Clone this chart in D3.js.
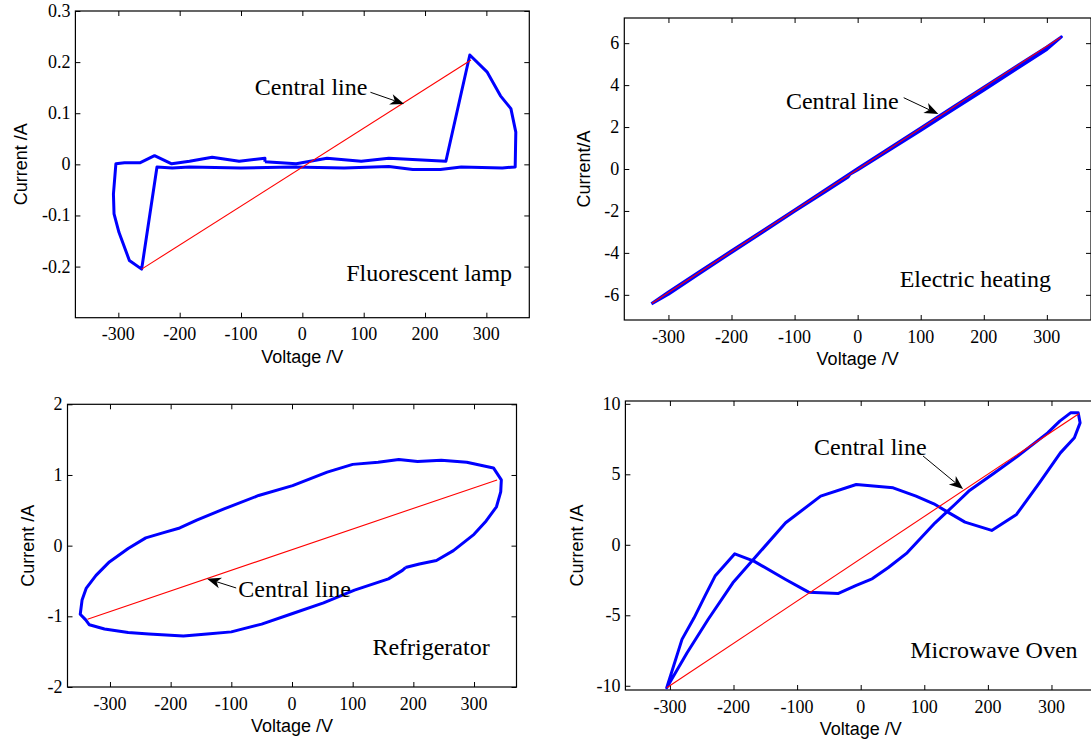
<!DOCTYPE html>
<html>
<head>
<meta charset="utf-8">
<script src="https://cdn.jsdelivr.net/npm/d3@7"></script>
<style>
  body { margin: 0; background: #fff; }
  svg { display: block; }
</style>
</head>
<body>
<script>
// V-I trajectories (voltage in V, current in A)
const xTicks = [-300, -200, -100, 0, 100, 200, 300]

// fluorescent lamp
const lampV = [-61, -10, 40, 96, 141, 234, 273, 301, 323, 340, 348, 347, 326, 259, 225, 180, 141, 68, -16, -100, -184, -212, -237,
    -262, -282, -299, -307, -308, -304, -290, -265, -241, -213, -184, -147, -103, -61]
const lampI = [0.005, 0.001, 0.012, 0.006, 0.012, 0.006, 0.214, 0.181, 0.134, 0.109, 0.063, -0.005, -0.007, -0.005, -0.010, -0.010,
    -0.004, -0.007, -0.005, -0.007, -0.005, -0.007, -0.005, -0.205, -0.188, -0.133, -0.097, -0.058, 0.001, 0.003, 0.003, 0.017,
    0.001, 0.006, 0.014, 0.006, 0.012]
const lampCentralV = [-262, 275]
const lampCentralI = [-0.205, 0.204]
const lampTicks = [-0.2, -0.1, 0, 0.1, 0.2, 0.3]

// electric heating
const heatV = [-327, -300, -250, -200, -150, -100, -50, -15, -12, 0, 50, 100, 150, 200, 250, 300, 323,
    300, 250, 200, 150, 100, 50, 0, -50, -100, -150, -200, -250, -300, -327]
const heatI = [-6.43, -5.97, -4.97, -3.98, -3.00, -2.02, -1.06, -0.38, -0.25, -0.05, 0.90, 1.84, 2.80, 3.76, 4.73, 5.70, 6.30,
    5.82, 4.86, 3.90, 2.93, 1.96, 0.99, 0.02, -0.97, -1.95, -2.93, -3.90, -4.88, -5.86, -6.43]
const heatCentralV = [-326, 322]
const heatCentralI = [-6.40, 6.28]
const heatTicks = [-6, -4, -2, 0, 2, 4, 6]

// refrigerator
const fridgeV = [187, 210, 238, 266, 300, 320, 337, 344, 345, 332, 288, 246, 207, 176, 142, 100, 58, 1, -55, -112, -157, -185,
    -213, -241, -270, -301, -323, -339, -346, -349, -340, -334, -309, -270, -236, -179, -140, -100, -50, 1, 52, 103, 159, 182]
const fridgeI = [-0.31, -0.26, -0.21, -0.07, 0.16, 0.35, 0.55, 0.76, 0.93, 1.10, 1.18, 1.21, 1.19, 1.22, 1.18, 1.15, 1.04, 0.85,
    0.71, 0.52, 0.36, 0.25, 0.18, 0.11, -0.04, -0.23, -0.42, -0.60, -0.77, -0.97, -1.05, -1.12, -1.18, -1.23, -1.25, -1.28,
    -1.25, -1.22, -1.11, -0.96, -0.81, -0.63, -0.47, -0.35]
const fridgeCentralV = [-337, 338]
const fridgeCentralI = [-1.04, 0.93]
const fridgeTicks = [-2, -1, 0, 1, 2]

// microwave oven
const ovenV = [16, -7, -35, -82, -118, -168, -198, -229, -245, -262, -281, -305, -273, -240, -201, -162, -118, -63, -7, 51, 87,
    115, 137, 164, 206, 245, 281, 314, 336, 345, 342, 330, 313, 294, 247, 209, 170, 148, 117, 73, 43, 18]
const ovenI = [-2.46, -2.88, -3.45, -3.36, -2.46, -1.16, -0.64, -2.22, -3.64, -5.18, -6.71, -10.14, -7.66, -5.30, -2.70, -0.69,
    1.56, 3.45, 4.28, 4.04, 3.45, 2.91, 2.32, 1.61, 1.02, 2.15, 4.40, 6.52, 7.59, 8.65, 9.36, 9.36, 8.77, 7.94, 6.29, 5.06, 3.81,
    2.86, 1.56, -0.57, -1.63, -2.41]
const ovenCentralV = [-305, 343]
const ovenCentralI = [-10.14, 9.30]
const ovenTicks = [-10, -5, 0, 5, 10]

const panels = [
    {
        v: lampV, i: lampI, cv: lampCentralV, ci: lampCentralI, yDomain: [-0.3, 0.3], yTicks: lampTicks,
        box: [75.4, 11, 529.3, 317.7], ylabel: "Current /A", ylabelX: 26.5,
        name: "Fluorescent lamp", nameAt: [342, -0.228],
        note: [-77.5, 0.1357], arrow: [[111, 0.141], [166, 0.118]]
    },
    {
        v: heatV, i: heatI, cv: heatCentralV, ci: heatCentralI, yDomain: [-7.2, 7.2], yTicks: heatTicks,
        box: [624.3, 18, 1091, 320], ylabel: "Current/A", ylabelX: 589.5,
        name: "Electric heating", nameAt: [306.5, -5.63],
        note: [-113.7, 2.86], arrow: [[73, 3.40], [128, 2.62]]
    },
    {
        v: fridgeV, i: fridgeI, cv: fridgeCentralV, ci: fridgeCentralI, yDomain: [-2, 2], yTicks: fridgeTicks,
        box: [67.5, 404.3, 516.5, 687], ylabel: "Current /A", ylabelX: 34,
        name: "Refrigerator", nameAt: [325.8, -1.547],
        note: [-88.5, -0.727], arrow: [[-92, -0.599], [-140, -0.468]]
    },
    {
        v: ovenV, i: ovenI, cv: ovenCentralV, ci: ovenCentralI, yDomain: [-10.3, 10.2], yTicks: ovenTicks,
        box: [625.4, 401, 1096, 690], ylabel: "Current /A", ylabelX: 582.5,
        name: "Microwave Oven", nameAt: [341, -8.03],
        note: [-73.4, 6.37], arrow: [[98, 6.30], [161, 3.95]]
    }
]

const serif = "'Liberation Serif', 'Times New Roman', serif"
const sans = "'Liberation Sans', Arial, sans-serif"
const tickLen = 5

const svg = d3.select("body").append("svg").attr("width", 1091).attr("height", 744)

function draw_arrow(g, x0, y0, x1, y1) {
    const len = Math.hypot(x1 - x0, y1 - y0)
    const ux = (x1 - x0) / len, uy = (y1 - y0) / len
    const hl = 14, hw = 5.5, back = 4
    const bx = x1 - ux * hl, by = y1 - uy * hl
    g.append("line")
        .attr("x1", x0).attr("y1", y0)
        .attr("x2", bx + ux * back).attr("y2", by + uy * back)
        .attr("stroke", "#000").attr("stroke-width", 1)
    g.append("path")
        .attr("d", `M${x1},${y1}L${bx - uy * hw},${by + ux * hw}L${bx + ux * back},${by + uy * back}L${bx + uy * hw},${by - ux * hw}Z`)
        .attr("fill", "#000")
}

function draw_panel(p) {
    const [x0, y0, x1, y1] = p.box
    const x = d3.scaleLinear().domain([-370, 370]).range([x0, x1])
    const y = d3.scaleLinear().domain(p.yDomain).range([y1, y0])
    const g = svg.append("g")

    // inward ticks on all four sides
    const axes = [
        [d3.axisBottom(x).tickValues(xTicks).tickSize(tickLen), `translate(0,${y0})`],
        [d3.axisTop(x).tickValues(xTicks).tickSize(tickLen), `translate(0,${y1})`],
        [d3.axisRight(y).tickValues(p.yTicks).tickSize(tickLen), `translate(${x0},0)`],
        [d3.axisLeft(y).tickValues(p.yTicks).tickSize(tickLen), `translate(${x1},0)`]
    ]
    axes.forEach(([ax, tr]) => {
        const a = g.append("g").attr("transform", tr).call(ax.tickFormat(""))
        a.select(".domain").remove()
        a.selectAll(".tick line").attr("stroke", "#000").attr("stroke-width", 1)
    })

    g.append("g").selectAll("text").data(xTicks).join("text")
        .attr("x", d => x(d)).attr("y", y1 + 22.5)
        .attr("text-anchor", "middle")
        .style("font-family", serif).style("font-size", "18px")
        .text(d => String(d))

    g.append("g").selectAll("text").data(p.yTicks).join("text")
        .attr("x", x0 - 5).attr("y", d => y(d) + 6)
        .attr("text-anchor", "end")
        .style("font-family", serif).style("font-size", "18px")
        .text(d => String(d))

    g.append("rect")
        .attr("x", x0).attr("y", y0).attr("width", x1 - x0).attr("height", y1 - y0)
        .attr("fill", "none").attr("stroke", "#000").attr("stroke-width", 1.2)

    // loops are drawn closed, the small step where the record starts stays visible
    const pts = p.v.map((v, k) => [v, p.i[k]])
    pts.push(pts[0])
    const line = d3.line().x(d => x(d[0])).y(d => y(d[1]))
    g.append("path").datum(pts).attr("d", line)
        .attr("fill", "none").attr("stroke", "#0000ff").attr("stroke-width", 3)
        .attr("stroke-linejoin", "round")

    g.append("path").datum(p.cv.map((v, k) => [v, p.ci[k]])).attr("d", line)
        .attr("fill", "none").attr("stroke", "#ff0000").attr("stroke-width", 1.1)

    g.append("text")
        .attr("x", x(p.note[0])).attr("y", y(p.note[1]))
        .style("font-family", serif).style("font-size", "24px")
        .text("Central line")
    draw_arrow(g, x(p.arrow[0][0]), y(p.arrow[0][1]), x(p.arrow[1][0]), y(p.arrow[1][1]))

    g.append("text")
        .attr("x", x(p.nameAt[0])).attr("y", y(p.nameAt[1]))
        .attr("text-anchor", "end")
        .style("font-family", serif).style("font-size", "24px")
        .text(p.name)

    g.append("text")
        .attr("x", x(0)).attr("y", y1 + 45)
        .attr("text-anchor", "middle")
        .style("font-family", sans).style("font-size", "18px")
        .text("Voltage /V")

    g.append("text")
        .attr("transform", `translate(${p.ylabelX},${(y0 + y1) / 2}) rotate(-90)`)
        .attr("text-anchor", "middle")
        .style("font-family", sans).style("font-size", "18px")
        .text(p.ylabel)
}

panels.forEach(draw_panel)
</script>
</body>
</html>
